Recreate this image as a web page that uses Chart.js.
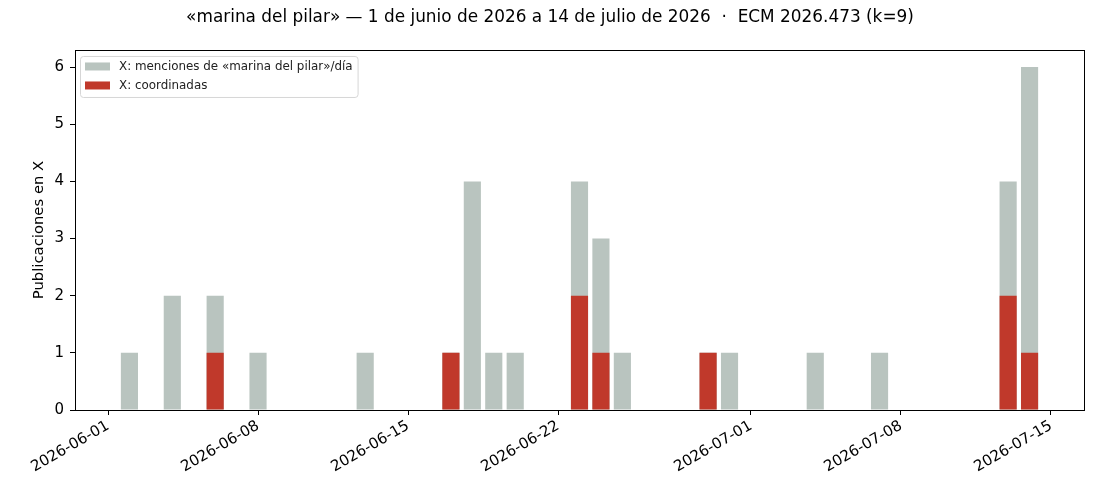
<!DOCTYPE html>
<html>
<head>
<meta charset="utf-8">
<script src="https://cdn.jsdelivr.net/npm/chart.js@4"></script>
<style>
  html, body { margin: 0; padding: 0; background: #fff; }
  #wrap { width: 1100px; height: 495px; }
</style>
</head>
<body>
<div id="wrap"><canvas id="chart" width="1100" height="495"></canvas></div>
<script>
// Datos (días sin publicaciones quedan en cero)
const inicio = "2026-06-01";
const fechas = ["2026-06-02", "2026-06-04", "2026-06-06", "2026-06-08", "2026-06-13",
  "2026-06-17", "2026-06-18", "2026-06-19", "2026-06-20", "2026-06-23", "2026-06-24",
  "2026-06-25", "2026-06-29", "2026-06-30", "2026-07-04", "2026-07-07", "2026-07-13", "2026-07-14"];
const menciones = [1, 2, 2, 1, 1, 1, 4, 1, 1, 4, 3, 1, 1, 1, 1, 1, 4, 6];
const coordenadas = [0, 0, 1, 0, 0, 1, 0, 0, 0, 2, 1, 0, 1, 0, 0, 0, 2, 1];
const marcasX = ["2026-06-01", "2026-06-08", "2026-06-15", "2026-06-22", "2026-07-01", "2026-07-08", "2026-07-15"];
const marcasY = [0, 1, 2, 3, 4, 5, 6];

const titulo = "«marina del pilar» — 1 de junio de 2026 a 14 de julio de 2026  ·  ECM 2026.473 (k=9)";
const etiquetaMenciones = "X: menciones de «marina del pilar»/día";
const etiquetaCoords = "X: coordinadas";

const DIA = 86400000;
const t0 = Date.parse(inicio + "T00:00:00Z");
const aDia = (f) => Math.round((Date.parse(f + "T00:00:00Z") - t0) / DIA);
const aFecha = (d) => new Date(t0 + d * DIA).toISOString().slice(0, 10);

const dias = fechas.map(aDia);
const FONT = "'DejaVu Sans', sans-serif";

// margen automático de 5% al estilo matplotlib
const xMin = dias[0] - 0.4, xMax = dias[dias.length - 1] + 0.4;
const margen = (xMax - xMin) * 0.05;

// marco completo alrededor del área del gráfico
const marco = {
  id: "marco",
  afterDatasetsDraw(chart) {
    const { ctx, chartArea: a } = chart;
    ctx.save();
    ctx.strokeStyle = "#000";
    ctx.lineWidth = 1;
    ctx.strokeRect(Math.round(a.left) + 0.5, Math.round(a.top) + 0.5,
      Math.round(a.right - a.left), Math.round(a.bottom - a.top));
    ctx.restore();
  }
};

// leyenda dentro del área, arriba a la izquierda
const leyenda = {
  id: "leyenda",
  afterDraw(chart) {
    const { ctx, chartArea: a } = chart;
    const x = a.left + 5, y = a.top + 6;
    ctx.save();
    ctx.font = "11.9px " + FONT;
    const items = chart.data.datasets.map((ds) => ({ label: ds.label, color: ds.backgroundColor }));
    const anchoTexto = Math.max(...items.map((it) => ctx.measureText(it.label).width));
    const w = 44 + anchoTexto, h = 41;
    ctx.beginPath();
    ctx.roundRect(x + 0.5, y + 0.5, w, h, 3);
    ctx.fillStyle = "rgba(255,255,255,0.8)";
    ctx.fill();
    ctx.strokeStyle = "#d6d6d6";
    ctx.lineWidth = 1;
    ctx.stroke();
    items.forEach((it, i) => {
      const cy = y + 10.5 + i * 19;
      ctx.fillStyle = it.color;
      ctx.fillRect(x + 5, cy - 4, 25, 8);
      ctx.fillStyle = "#222";
      ctx.textBaseline = "middle";
      ctx.fillText(it.label, x + 39, cy);
    });
    ctx.restore();
  }
};

new Chart(document.getElementById("chart"), {
  type: "bar",
  data: {
    datasets: [
      {
        label: etiquetaMenciones,
        data: dias.map((d, i) => ({ x: d, y: menciones[i] })),
        backgroundColor: "#b9c4bf",
        order: 2,
      },
      {
        label: etiquetaCoords,
        data: dias.map((d, i) => ({ x: d, y: coordenadas[i] })),
        backgroundColor: "#c0392b",
        order: 1,
      },
    ],
  },
  options: {
    responsive: false,
    animation: false,
    layout: { padding: 0 },
    datasets: { bar: { grouped: false, barPercentage: 0.8, categoryPercentage: 1.0, borderWidth: 0 } },
    plugins: {
      legend: { display: false },
      tooltip: { enabled: false },
      title: {
        display: true,
        text: titulo,
        color: "#000",
        font: { family: FONT, size: 16.9, weight: "normal" },
        padding: { top: 7, bottom: 22.7 },
      },
    },
    scales: {
      x: {
        type: "linear",
        offset: false,
        min: xMin - margen,
        max: xMax + margen,
        afterBuildTicks: (s) => { s.ticks = marcasX.map((f) => ({ value: aDia(f) })); },
        afterFit: (s) => { s.height = 85; },
        border: { display: false },
        grid: { offset: false, drawOnChartArea: false, drawTicks: true, tickLength: 5, tickColor: "#000" },
        ticks: {
          color: "#000",
          font: { family: FONT, size: 15 },
          minRotation: 30,
          maxRotation: 30,
          padding: 2,
          autoSkip: false,
          callback: (v) => aFecha(v),
        },
      },
      y: {
        min: 0,
        max: 6.3,
        afterBuildTicks: (s) => { s.ticks = marcasY.map((v) => ({ value: v })); },
        afterFit: (s) => { s.width = 75; },
        border: { display: false },
        grid: { drawOnChartArea: false, drawTicks: true, tickLength: 5, tickColor: "#000" },
        ticks: { color: "#000", font: { family: FONT, size: 15 }, padding: 6 },
        title: {
          display: true,
          text: "Publicaciones en X",
          color: "#000",
          font: { family: FONT, size: 14.8 },
          padding: { top: 30, bottom: 0 },
        },
      },
      // eje vacío a la derecha: solo reserva el margen derecho
      margenDerecho: {
        position: "right",
        display: true,
        afterFit: (s) => { s.width = 16; },
        border: { display: false },
        grid: { display: false },
        ticks: { display: false },
      },
    },
  },
  plugins: [marco, leyenda],
});
</script>
</body>
</html>
